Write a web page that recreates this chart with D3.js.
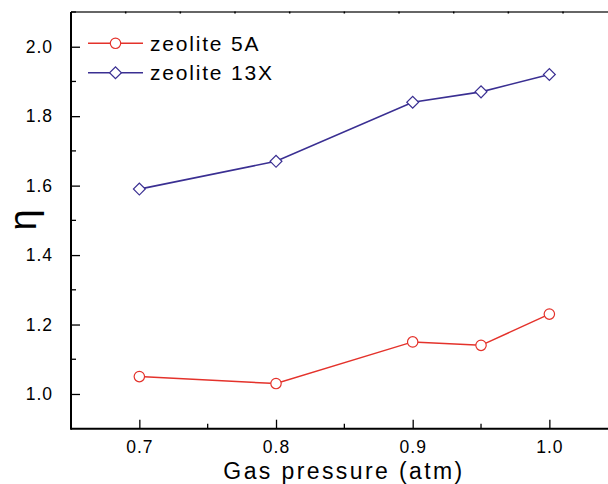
<!DOCTYPE html>
<html>
<head>
<meta charset="utf-8">
<script src="https://cdn.jsdelivr.net/npm/d3@7"></script>
<style>
  html, body { margin: 0; padding: 0; background: #fff; }
  svg { display: block; font-family: "Liberation Sans", Arial, sans-serif; }
</style>
</head>
<body>
<svg id="chart" width="608" height="484"></svg>
<script>
// Gas pressure (atm) and efficiency η for the two zeolites
const pressure = [0.7, 0.8, 0.9, 0.95, 1.0];
const eta5A = [1.05, 1.03, 1.15, 1.14, 1.23];
const eta13X = [1.59, 1.67, 1.84, 1.87, 1.92];
const seriesNames = ["zeolite 5A", "zeolite 13X"];
const xMajorTicks = [0.7, 0.8, 0.9, 1.0];
const xMinorTicks = [0.75, 0.85, 0.95];
const yMajorTicks = [1.0, 1.2, 1.4, 1.6, 1.8, 2.0];
const yMinorTicks = [1.1, 1.3, 1.5, 1.7, 1.9, 2.1];

const svg = d3.select("#chart");
const plotLeft = 71, plotTop = 12, plotBottom = 428.7;
const fontFam = "Liberation Sans, Arial, sans-serif";

const x = d3.scaleLinear().domain([0.65, 1.05]).range([plotLeft, plotLeft + 546.7]);
const y = d3.scaleLinear().domain([0.9, 2.1]).range([plotBottom, plotTop]);

const red = "#e4322b", blue = "#3a2f92";

// top frame line with its small ticks
const topTicks = d3.range(0, 9).map(k => 0.69 + 0.04 * k);
svg.append("line").attr("x1", plotLeft).attr("x2", 608).attr("y1", plotTop).attr("y2", plotTop)
  .attr("stroke", "#333").attr("stroke-width", 1.6);
svg.selectAll(".ttick").data(topTicks).join("line")
  .attr("x1", d => x(d)).attr("x2", d => x(d))
  .attr("y1", plotTop - 0.5).attr("y2", plotTop + 1.5)
  .attr("stroke", "#000").attr("stroke-width", 1.5);

// bottom axis
const xAxis = svg.append("g").attr("transform", `translate(0,${plotBottom})`);
xAxis.call(d3.axisBottom(x).tickValues(xMajorTicks).tickSize(-9).tickFormat(d3.format(".1f")).tickPadding(11.5));
xAxis.append("g").selectAll("line").data(xMinorTicks).join("line")
  .attr("x1", d => x(d)).attr("x2", d => x(d)).attr("y1", 0).attr("y2", -5)
  .attr("stroke", "#000").attr("stroke-width", 1.3);
xAxis.select(".domain").attr("d", `M${plotLeft},0H608`).attr("stroke-width", 2);
xAxis.selectAll(".tick line").attr("stroke-width", 1.3);
xAxis.selectAll(".tick text").attr("font-size", 17.5).attr("letter-spacing", 1)
  .attr("font-family", fontFam).attr("fill", "#000");

// left axis
const yAxis = svg.append("g").attr("transform", `translate(${plotLeft},0)`);
yAxis.call(d3.axisLeft(y).tickValues(yMajorTicks).tickSize(-9).tickFormat(d3.format(".1f")).tickPadding(18));
yAxis.append("g").selectAll("line").data(yMinorTicks).join("line")
  .attr("x1", 0).attr("x2", 5).attr("y1", d => y(d)).attr("y2", d => y(d))
  .attr("stroke", "#000").attr("stroke-width", 1.3);
yAxis.select(".domain").attr("d", `M0,${plotTop}V${plotBottom + 1}`).attr("stroke-width", 2);
yAxis.selectAll(".tick line").attr("stroke-width", 1.3);
yAxis.selectAll(".tick text").attr("font-size", 17.5).attr("letter-spacing", 1)
  .attr("font-family", fontFam).attr("fill", "#000");

// axis titles
svg.append("text").attr("x", 344).attr("y", 478.5).attr("text-anchor", "middle")
  .attr("font-size", 23).attr("letter-spacing", 2.4).attr("fill", "#000")
  .text("Gas pressure (atm)");
svg.append("text").attr("transform", "translate(36,220) rotate(-90)")
  .attr("text-anchor", "middle").attr("font-size", 38).attr("fill", "#000")
  .text("η");

// series lines and markers
const line = d3.line().x(d => x(d[0])).y(d => y(d[1]));
const d5A = pressure.map((p, i) => [p, eta5A[i]]);
const d13X = pressure.map((p, i) => [p, eta13X[i]]);

svg.append("path").datum(d5A).attr("d", line).attr("fill", "none")
  .attr("stroke", red).attr("stroke-width", 1.5);
svg.append("path").datum(d13X).attr("d", line).attr("fill", "none")
  .attr("stroke", blue).attr("stroke-width", 1.6);

const circle = d3.symbol().type(d3.symbolCircle).size(85);
const diamond = d3.symbol().type(d3.symbolSquare).size(70);

svg.selectAll(".m5A").data(d5A).join("path")
  .attr("d", circle).attr("transform", d => `translate(${x(d[0])},${y(d[1])})`)
  .attr("fill", "#fff").attr("stroke", red).attr("stroke-width", 1.2);
svg.selectAll(".m13X").data(d13X).join("path")
  .attr("d", diamond).attr("transform", d => `translate(${x(d[0])},${y(d[1])}) rotate(45)`)
  .attr("fill", "#fff").attr("stroke", blue).attr("stroke-width", 1.2);

// legend
const legend = svg.append("g");
const legendRows = [
  { name: seriesNames[0], color: red, sym: circle, rot: 0, y: 43.3 },
  { name: seriesNames[1], color: blue, sym: diamond, rot: 45, y: 72.7 }
];
legendRows.forEach(r => {
  legend.append("line").attr("x1", 88).attr("x2", 143).attr("y1", r.y).attr("y2", r.y)
    .attr("stroke", r.color).attr("stroke-width", 1.5);
  legend.append("path").attr("d", r.sym)
    .attr("transform", `translate(115.5,${r.y}) rotate(${r.rot})`)
    .attr("fill", "#fff").attr("stroke", r.color).attr("stroke-width", 1.2);
  legend.append("text").attr("x", 150).attr("y", r.y + 7.5).attr("font-size", 21)
    .attr("letter-spacing", 1.8).attr("fill", "#000").text(r.name);
});
</script>
</body>
</html>
